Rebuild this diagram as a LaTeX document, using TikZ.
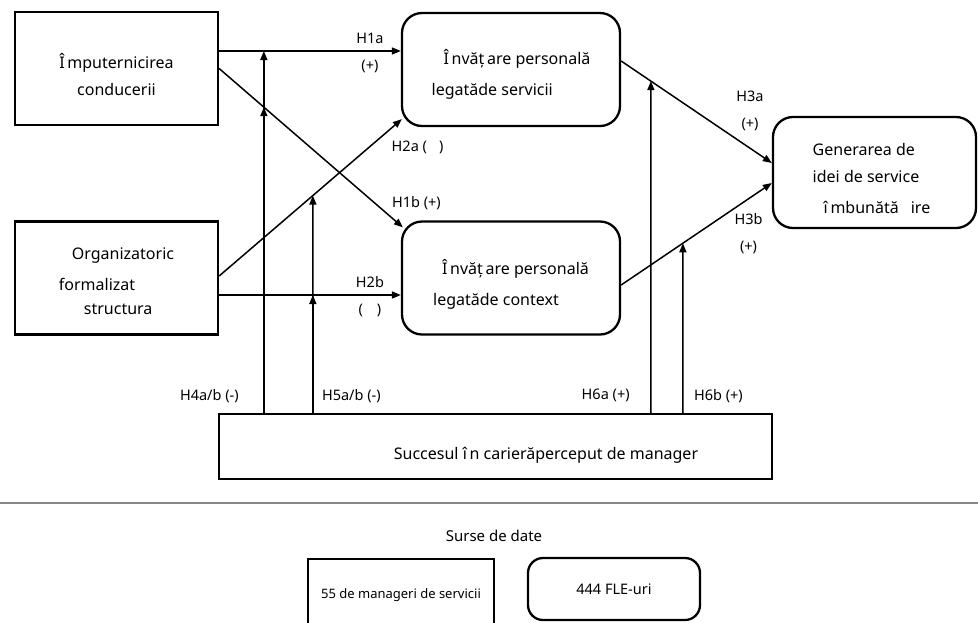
\documentclass[tikz,border=0pt]{standalone}
\usepackage{fontspec}
\setmainfont{Noto Sans}
\usepackage{tikz}
\usepackage{xcolor}
\usetikzlibrary{arrows.meta,positioning,calc}
\definecolor{rulecolor}{RGB}{135,135,135}

\begin{document}
\begin{tikzpicture}[x=1pt, y=-1pt,
    box/.style={rectangle, draw, line width=2.3pt, minimum width=203pt, minimum height=113pt, inner sep=0pt},
    rbox/.style={box, rounded corners=20pt},
    txt/.style={align=left, inner sep=0pt, font=\fontsize{16}{28}\selectfont},
    arrow/.style={-{Triangle[length=9pt,width=7pt]}, line width=1.5pt},
    hyp/.style={font=\fontsize{14.5}{27}\selectfont, inner sep=2pt}
]
\useasboundingbox (0,0) rectangle (978,622);

\node[box] (lead) at (116.5,68.5) {};
\node[box] (struct) at (116.5,278) {};
\node[rbox, minimum width=218pt] (serv) at (511,69.5) {};
\node[rbox, minimum width=218pt] (ctx) at (511,278) {};
\node[rbox, minimum height=111pt] (idea) at (874.5,172.5) {};
\node[box, minimum width=553pt, minimum height=65pt] (succ) at (495.5,446.5) {};

\node[txt, align=center] (lead-t) at ([yshift=-6pt]lead) {Î\,mputernicirea\\[-1pt]conducerii};
\node[txt] (struct-t) at ([yshift=-3pt]struct) {\hspace*{13pt}Organizatoric\\[3pt]formalizat\\[-4pt]\hspace*{25pt}structura};
\node[txt] (serv-t) at ([yshift=-4.5pt]serv) {\hspace*{12pt}Î\,nvăț\,are personală\\[3pt]legatăde servicii};
\node[txt] (ctx-t) at ([yshift=-6pt]ctx) {\hspace*{9pt}Î\,nvăț\,are personală\\[3pt]legatăde context};
\node[txt] (idea-t) at ([xshift=-3pt, yshift=-6pt]idea) {Generarea de\\[-1pt]idei de service\\[3pt]\hspace*{11pt}î\,mbunătă\hspace{12pt}ire};
\node[txt] (succ-t) at ([xshift=50.5pt, yshift=-9pt]succ) {Succesul î\,n carierăperceput de manager};

\coordinate (h1as) at ([yshift=17.5pt]lead.east);
\coordinate (h1ae) at ([yshift=18.5pt]serv.west);
\coordinate (h1bs) at (lead.east);
\coordinate (h1be) at ([xshift=2pt,yshift=-7pt]ctx.north west);
\coordinate (h2as) at ([yshift=2pt]struct.east);
\coordinate (h2ae) at ([xshift=1pt,yshift=8pt]serv.south west);
\coordinate (h2bs) at ([yshift=-17pt]struct.east);
\coordinate (h2be) at ([yshift=-17pt]ctx.west);
\coordinate (h3as) at ([yshift=8.5pt]serv.east);
\coordinate (h3ae) at ([yshift=9.5pt]idea.west);
\coordinate (h3bs) at ([yshift=-7pt]ctx.east);
\coordinate (h3be) at ([yshift=-10.5pt]idea.west);

\draw[arrow] (h1as) -- node[hyp, pos=0.83, above=5pt] {H1a} node[hyp, pos=0.83, below=6pt] {(+)} (h1ae);
\draw[arrow] (h1bs) -- node[hyp, pos=0.85, right=14pt] {H1b (+)} (h1be);
\draw[arrow] (h2as) -- node[hyp, pos=0.82, right=20pt] {H2a (\hspace{12pt})} (h2ae);
\draw[arrow] (h2bs) -- node[hyp, pos=0.83, above=5pt] {H2b} node[hyp, pos=0.83, below=6pt] {(\hspace{14pt})} (h2be);
\draw[arrow] (h3as) -- node[hyp, pos=0.855, yshift=37.5pt, align=center] {H3a\\(+)} (h3ae);
\draw[arrow] (h3bs) -- node[hyp, pos=0.845, yshift=-35pt, align=center] {H3b\\(+)} (h3be);

\coordinate (m1) at ([xshift=46pt]succ.north west);
\coordinate (m2) at ([xshift=95pt]succ.north west);
\coordinate (m3) at ([xshift=433pt]succ.north west);
\coordinate (m4) at ([xshift=465pt]succ.north west);
\coordinate (t1) at (m1 |- serv.north);
\coordinate (t2) at (m2 |- serv.north);
\coordinate (t3) at (m3 |- serv.north);
\coordinate (t4) at (m4 |- serv.north);

\draw[arrow] (m1) -- (m1 |- h1as);
\draw[arrow] (m1) -- (intersection of m1--t1 and h1bs--h1be);
\draw[arrow] (m2) -- (intersection of m2--t2 and h2as--h2ae);
\draw[arrow] (m2) -- (m2 |- h2bs);
\draw[arrow] (m3) -- (intersection of m3--t3 and h3as--h3ae);
\draw[arrow] (m4) -- (intersection of m4--t4 and h3bs--h3be);

\node[hyp, left=23pt of m1, yshift=17pt] (h4) {H4a/b (-)};
\node[hyp, right=7pt of m2, yshift=17pt] (h5) {H5a/b (-)};
\node[hyp, left=19pt of m3, yshift=17pt] (h6a) {H6a (+)};
\node[hyp, right=9pt of m4, yshift=17pt] (h6b) {H6b (+)};

\draw[rulecolor, line width=2pt] (0,503) -- (978,503);
\node[hyp, font=\fontsize{15}{18}\selectfont] (src) at (494,536) {Surse de date};
\node[box, minimum width=186pt, minimum height=72pt, font=\fontsize{13}{16}\selectfont] (mgr) at (401,595) {55 de manageri de servicii};
\node[rbox, rounded corners=15pt, minimum width=172pt, minimum height=62pt, font=\fontsize{14.5}{16}\selectfont] (fle) at (614,589) {444 FLE-uri};
\end{tikzpicture}
\end{document}
